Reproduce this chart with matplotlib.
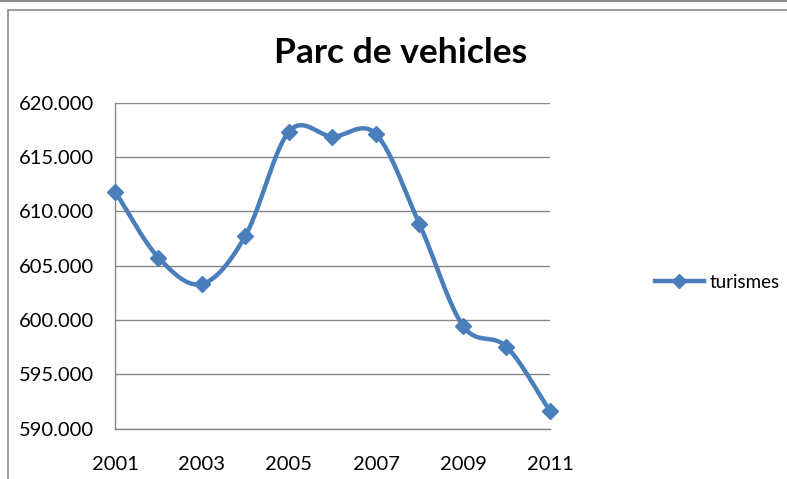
import numpy as np
import matplotlib.pyplot as plt
from matplotlib.lines import Line2D
from matplotlib.patches import Rectangle

years = [2001, 2002, 2003, 2004, 2005, 2006, 2007, 2008, 2009, 2010, 2011]
turismes = [611800, 605720, 603300, 607750, 617330, 616870, 617090,
            608800, 599450, 597520, 591620]
ytick_vals = [590000, 595000, 600000, 605000, 610000, 615000, 620000]
xtick_vals = [2001, 2003, 2005, 2007, 2009, 2011]

blue = '#4a7ebb'
grid_c = '#868686'
font = 'Lato'


def smooth(x, y, n=30):
    # Catmull-Rom, close to Excel's smoothed line
    x = np.asarray(x, float)
    y = np.asarray(y, float)
    px = np.concatenate([[2 * x[0] - x[1]], x, [2 * x[-1] - x[-2]]])
    py = np.concatenate([[2 * y[0] - y[1]], y, [2 * y[-1] - y[-2]]])
    xs, ys = [], []
    t = np.linspace(0, 1, n, endpoint=False)
    for i in range(1, len(px) - 2):
        for p, out in ((px, xs), (py, ys)):
            p0, p1, p2, p3 = p[i - 1], p[i], p[i + 1], p[i + 2]
            out.extend(0.5 * ((2 * p1) + (-p0 + p2) * t
                              + (2 * p0 - 5 * p1 + 4 * p2 - p3) * t ** 2
                              + (-p0 + 3 * p1 - 3 * p2 + p3) * t ** 3))
    xs.append(x[-1])
    ys.append(y[-1])
    return np.array(xs), np.array(ys)


fig = plt.figure(figsize=(7.87, 4.79), dpi=100)
fig.patches.append(Rectangle((8 / 787, -0.1), 1.1, 1 - 10 / 479 + 0.1, transform=fig.transFigure,
                             fill=False, edgecolor='#8c8c8c', lw=1.2))
fig.add_artist(Line2D([0, 1], [1 - 1 / 479, 1 - 1 / 479], color='#8c8c8c', lw=1.5))

ax = fig.add_axes([115 / 787, 1 - 428.5 / 479, 435 / 787, 326 / 479])
sx, sy = smooth(years, turismes)
ax.plot(sx, sy, color=blue, lw=3.2, solid_capstyle='round', zorder=3)
ax.plot(years, turismes, ls='none', marker='D', ms=8, color=blue, zorder=4, clip_on=False)

ax.set_xlim(2001, 2011)
ax.set_ylim(590000, 620000)
ax.set_yticks(ytick_vals)
ax.set_yticklabels([f'{v // 1000}.000' for v in ytick_vals], fontsize=14.5, family=font)
ax.set_xticks(xtick_vals)
ax.set_xticklabels([str(v) for v in xtick_vals], fontsize=14.5, family=font)
ax.tick_params(length=0, colors='black')
ax.tick_params(axis='y', pad=15)
ax.tick_params(axis='x', pad=20)
ax.grid(axis='y', color=grid_c, lw=1)
ax.set_axisbelow(True)
for s in ['top', 'right']:
    ax.spines[s].set_visible(False)
for s in ['left', 'bottom']:
    ax.spines[s].set_color(grid_c)
    ax.spines[s].set_linewidth(1)

fig.text(401 / 787, 1 - 53 / 479, 'Parc de vehicles', ha='center', va='center',
         fontsize=25.5, fontweight='bold', family=font)

leg_handle = Line2D([], [], color=blue, lw=3.2, marker='D', ms=7)
fig.legend([leg_handle], ['turismes'], loc='center left', bbox_to_anchor=(638 / 787, 1 - 282 / 479),
           frameon=False, prop={'family': font, 'size': 13.5}, handlelength=2.6, handletextpad=0.3)

fig.savefig('out.png', dpi=100)
